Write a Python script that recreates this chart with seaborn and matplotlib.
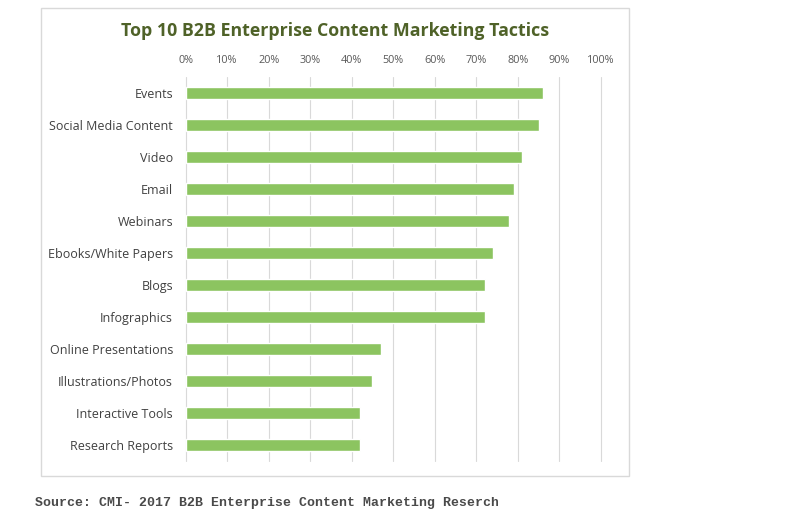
import pandas as pd
import matplotlib.pyplot as plt
import seaborn as sns
from matplotlib.patches import Rectangle
from matplotlib.ticker import PercentFormatter

# data
tacticas = ['Events', 'Social Media Content', 'Video', 'Email', 'Webinars',
            'Ebooks/White Papers', 'Blogs', 'Infographics', 'Online Presentations',
            'Illustrations/Photos', 'Interactive Tools', 'Research Reports']
percentuais = [0.86, 0.85, 0.81, 0.79, 0.78, 0.74, 0.72, 0.72, 0.47, 0.45, 0.42, 0.42]
ticks_x = [0, 0.1, 0.2, 0.3, 0.4, 0.5, 0.6, 0.7, 0.8, 0.9, 1.0]

VERDE = '#8CC460'
TITULO_COR = '#4F6228'
CINZA = '#D9D9D9'

df = pd.DataFrame({'Tactic': tacticas, 'Share': percentuais})

sns.set_style('white')
plt.rcParams['font.family'] = ['Open Sans', 'DejaVu Sans']

fig = plt.figure(figsize=(8, 5.31), dpi=100)
ax = fig.add_axes([0.232, 0.1318, 0.519, 0.7232])

sns.barplot(data=df, x='Share', y='Tactic', order=tacticas, color=VERDE,
            width=0.4, saturation=1, ax=ax)

ax.set_xlim(0, 1)
ax.set_xticks(ticks_x)
ax.xaxis.set_major_formatter(PercentFormatter(1.0, decimals=0))
ax.xaxis.tick_top()
ax.tick_params(axis='x', length=0, labelsize=7.8, colors='#595959', pad=8)
ax.tick_params(axis='y', length=0, labelsize=9, colors='#404040', pad=9)
ax.set_xlabel('')
ax.set_ylabel('')
ax.grid(axis='x', color='#D9D9D9', linewidth=0.8)
for linha in ax.get_xgridlines():
    linha.set_clip_on(False)  # para a linha dos 100% não ficar cortada
ax.set_axisbelow(True)
for s in ax.spines.values():
    s.set_visible(False)

# moldura em volta do gráfico
fig.patches.append(Rectangle((0.051, 0.1036), 0.735, 0.881, transform=fig.transFigure,
                             fill=False, edgecolor=CINZA, linewidth=1))

fig.text(0.419, 0.9416, 'Top 10 B2B Enterprise Content Marketing Tactics',
         ha='center', va='center', fontsize=12.8, fontweight='bold', color=TITULO_COR)
fig.text(0.044, 0.0527, 'Source: CMI- 2017 B2B Enterprise Content Marketing Reserch',
         ha='left', va='center', fontsize=9.5, family='Liberation Mono',
         fontweight='bold', color='#4a4a4a')

fig.savefig('out.png', dpi=100)
plt.close()
